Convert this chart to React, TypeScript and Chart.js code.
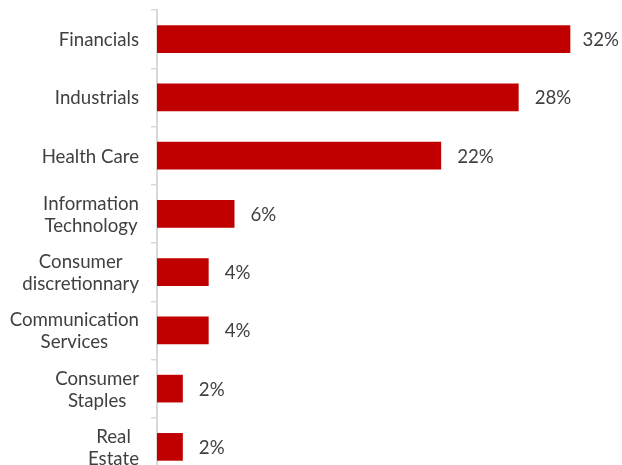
import React, { useEffect, useRef } from "react";
import { Chart, registerables } from "chart.js";

Chart.register(...registerables);

const categories: (string | string[])[] = [
  "Financials",
  "Industrials",
  "Health Care",
  ["Information", "Technology"],
  ["Consumer", "discretionnary"],
  ["Communication", "Services"],
  ["Consumer", "Staples"],
  ["Real", "Estate"],
];
const values: number[] = [32, 28, 22, 6, 4, 4, 2, 2];
const valueLabels: string[] = ["32%", "28%", "22%", "6%", "4%", "4%", "2%", "2%"];

const BAR_COLOR = "#C00000";
const TEXT_COLOR = "#404040";
const AXIS_COLOR = "#d9d9d9";
const FONT_FAMILY = "Lato, 'Open Sans', sans-serif";
const FONT_SIZE = 18.67;
const LINE_HEIGHT = 22;

const valueLabelPlugin = {
  id: "valueLabels",
  afterDatasetsDraw(chart: any) {
    const ctx = chart.ctx;
    const meta = chart.getDatasetMeta(0);
    ctx.save();
    ctx.font = `${FONT_SIZE}px ${FONT_FAMILY}`;
    ctx.fillStyle = TEXT_COLOR;
    ctx.textBaseline = "middle";
    ctx.textAlign = "left";
    meta.data.forEach((bar: any, i: number) => {
      const text = valueLabels[i];
      const w = ctx.measureText(text).width;
      let x = bar.x + 16;
      const maxX = chart.width - w - 3;
      if (x > maxX) x = maxX;
      ctx.fillText(text, x, bar.y + 1);
    });
    ctx.restore();
  },
};

// Category labels: each block right-aligned to the axis, lines centred within the block
const categoryLabelPlugin = {
  id: "categoryLabels",
  afterDraw(chart: any) {
    const ctx = chart.ctx;
    const yScale = chart.scales.y;
    const rightEdge = yScale.right - 18;
    ctx.save();
    ctx.font = `${FONT_SIZE}px ${FONT_FAMILY}`;
    ctx.fillStyle = TEXT_COLOR;
    ctx.textBaseline = "middle";
    ctx.textAlign = "center";
    categories.forEach((label, i) => {
      const lines = Array.isArray(label) ? label : [label];
      const widest = Math.max(...lines.map((l) => ctx.measureText(l).width));
      const cx = rightEdge - widest / 2;
      const cy = yScale.getPixelForTick(i) + 1;
      const startY = cy - ((lines.length - 1) * LINE_HEIGHT) / 2;
      lines.forEach((line, j) => {
        ctx.fillText(line, cx, startY + j * LINE_HEIGHT);
      });
    });
    ctx.restore();
  },
};

export default function App() {
  const canvasRef = useRef<HTMLCanvasElement | null>(null);

  useEffect(() => {
    if (!canvasRef.current) return;
    const chart = new Chart(canvasRef.current, {
      type: "bar",
      data: {
        labels: categories,
        datasets: [
          {
            data: values,
            backgroundColor: BAR_COLOR,
            borderWidth: 0,
            barPercentage: 0.475,
            categoryPercentage: 1,
          },
        ],
      },
      options: {
        indexAxis: "y",
        animation: false,
        responsive: false,
        maintainAspectRatio: false,
        layout: { padding: { top: 10, bottom: 2, left: 0, right: 0 } },
        plugins: {
          legend: { display: false },
          tooltip: { enabled: false },
        },
        scales: {
          x: {
            display: false,
            min: 0,
            max: 36,
          },
          y: {
            afterFit(scale: any) {
              scale.width = 157;
              scale.paddingTop = 0;
              scale.paddingBottom = 0;
            },
            grid: {
              display: true,
              drawOnChartArea: false,
              drawTicks: true,
              tickLength: 6,
              color: AXIS_COLOR,
              lineWidth: 1.5,
              offset: true,
            },
            border: { display: true, color: AXIS_COLOR, width: 2 },
            ticks: {
              display: false,
              autoSkip: false,
            },
          },
        },
      },
      plugins: [valueLabelPlugin, categoryLabelPlugin],
    });
    return () => chart.destroy();
  }, []);

  return (
    <div
      style={{
        position: "fixed",
        top: 0,
        left: 0,
        width: 622,
        height: 465,
        overflow: "hidden",
        background: "#fff",
      }}
    >
      <canvas
        ref={canvasRef}
        width={622}
        height={478}
        style={{ width: 622, height: 478, display: "block" }}
      />
    </div>
  );
}
